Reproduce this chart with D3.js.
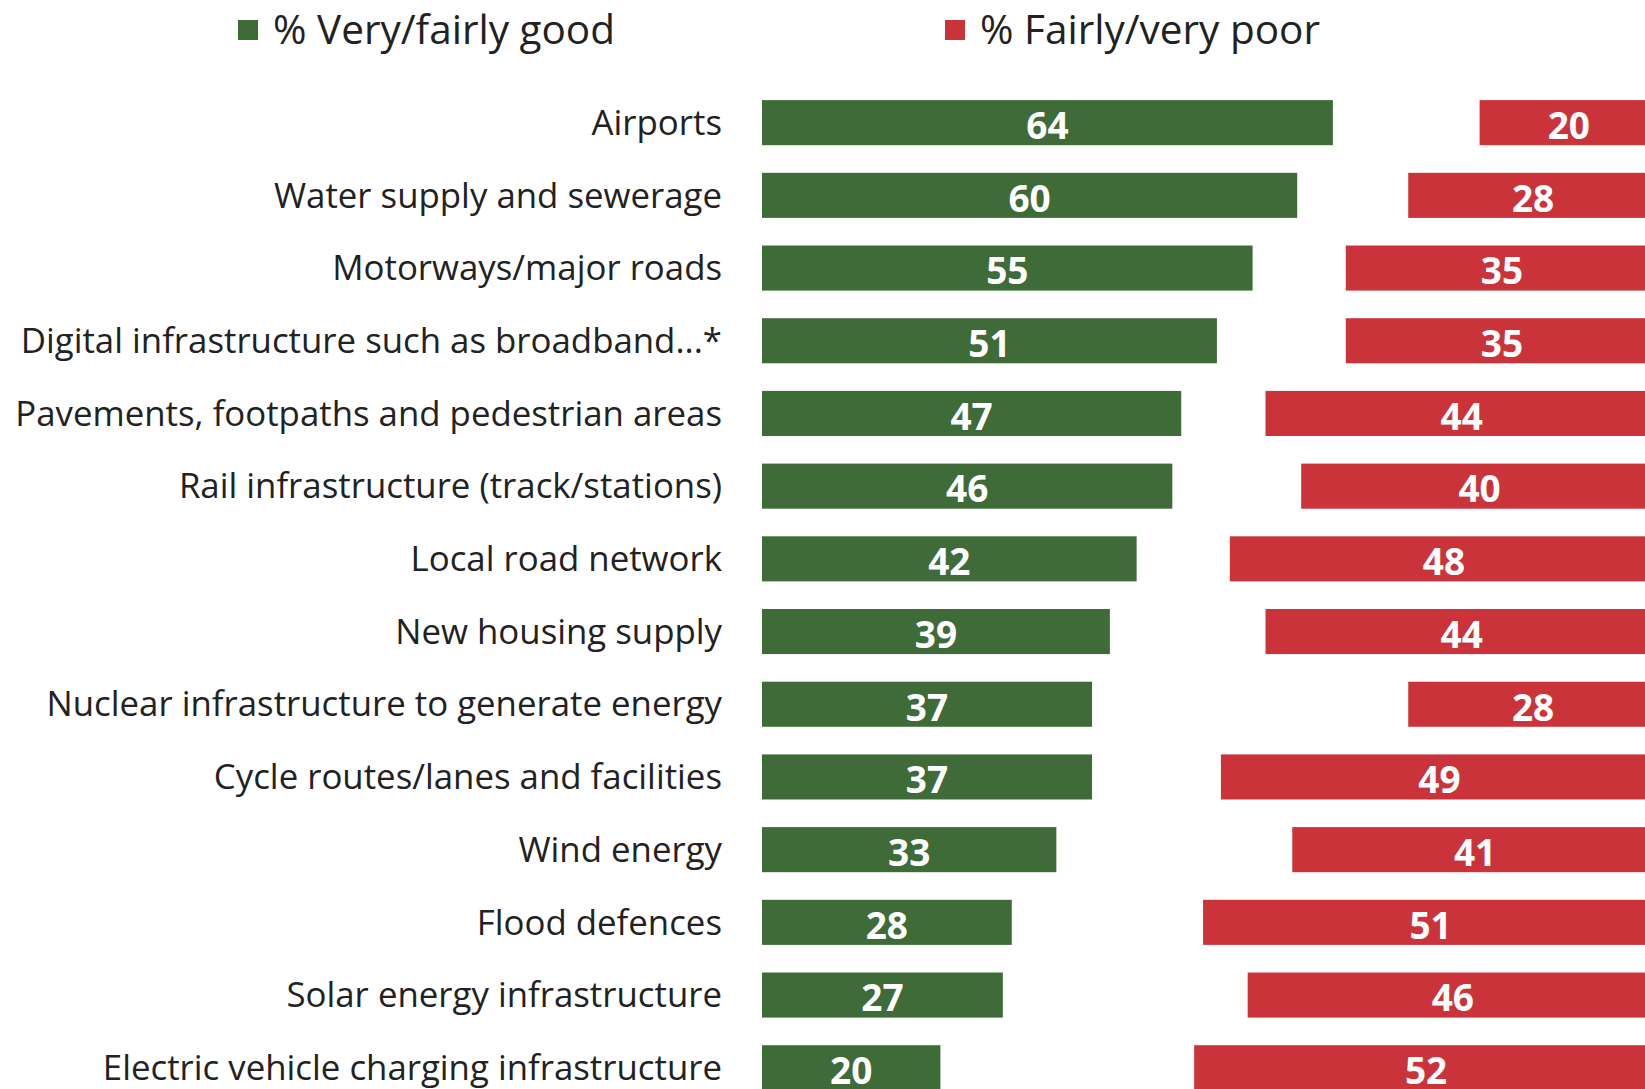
<!DOCTYPE html>
<html>
<head>
<meta charset="utf-8">
<script src="https://cdn.jsdelivr.net/npm/d3@7"></script>
<style>
  html, body { margin: 0; padding: 0; background: #fff; overflow: hidden; }
  svg { display: block; font-family: "Open Sans", "Noto Sans", sans-serif; }
</style>
</head>
<body>
<div id="chart"></div>
<script>
// data
var categories = [
  'Airports',
  'Water supply and sewerage',
  'Motorways/major roads',
  'Digital infrastructure such as broadband...*',
  'Pavements, footpaths and pedestrian areas',
  'Rail infrastructure (track/stations)',
  'Local road network',
  'New housing supply',
  'Nuclear infrastructure to generate energy',
  'Cycle routes/lanes and facilities',
  'Wind energy',
  'Flood defences',
  'Solar energy infrastructure',
  'Electric vehicle charging infrastructure'
]
var goodValues = [64, 60, 55, 51, 47, 46, 42, 39, 37, 37, 33, 28, 27, 20]
var poorValues = [20, 28, 35, 35, 44, 40, 48, 44, 28, 49, 41, 51, 46, 52]
var legendLabels = ['% Very/fairly good', '% Fairly/very poor']

var W = 1645, H = 1089
var green = '#3e6b37', red = '#cb333b'

var svg = d3.select('#chart').append('svg')
  .attr('width', W).attr('height', H)

// scales
var unit = 8.92
var xGood = d3.scaleLinear().domain([0, 64]).range([762, 762 + 64 * unit])
var redRight = 1658
var xPoor = d3.scaleLinear().domain([0, 52]).range([redRight, redRight - 52 * unit])

var step = 72.7
var y = d3.scaleBand()
  .domain(categories)
  .range([86.3, 86.3 + step * categories.length])
  .paddingInner(0.38).paddingOuter(0.19)

var rows = categories.map(function(c, i){
  return {cat: c, good: goodValues[i], poor: poorValues[i]}
})

// category labels
svg.append('g').selectAll('text')
  .data(rows).enter().append('text')
  .attr('x', 722)
  .attr('y', function(d){ return y(d.cat) + y.bandwidth() / 2 })
  .attr('dy', '0.35em')
  .attr('text-anchor', 'end')
  .attr('fill', '#222')
  .style('font-size', '34.8px')
  .text(function(d){ return d.cat })

// green bars
var g1 = svg.append('g')
g1.selectAll('rect')
  .data(rows).enter().append('rect')
  .attr('x', xGood(0))
  .attr('y', function(d){ return y(d.cat) })
  .attr('width', function(d){ return xGood(d.good) - xGood(0) })
  .attr('height', y.bandwidth())
  .attr('fill', green)
g1.selectAll('text')
  .data(rows).enter().append('text')
  .attr('x', function(d){ return (xGood(0) + xGood(d.good)) / 2 })
  .attr('y', function(d){ return y(d.cat) + y.bandwidth() / 2 + 3 })
  .attr('dy', '0.36em')
  .attr('text-anchor', 'middle')
  .attr('fill', '#fff')
  .style('font-size', '37px').style('font-weight', 'bold')
  .text(function(d){ return d.good })

// red bars (run off the right edge)
var g2 = svg.append('g')
g2.selectAll('rect')
  .data(rows).enter().append('rect')
  .attr('x', function(d){ return xPoor(d.poor) })
  .attr('y', function(d){ return y(d.cat) })
  .attr('width', function(d){ return xPoor(0) - xPoor(d.poor) })
  .attr('height', y.bandwidth())
  .attr('fill', red)
g2.selectAll('text')
  .data(rows).enter().append('text')
  .attr('x', function(d){ return (xPoor(0) + xPoor(d.poor)) / 2 })
  .attr('y', function(d){ return y(d.cat) + y.bandwidth() / 2 + 3 })
  .attr('dy', '0.36em')
  .attr('text-anchor', 'middle')
  .attr('fill', '#fff')
  .style('font-size', '37px').style('font-weight', 'bold')
  .text(function(d){ return d.poor })

// legend
var legend = svg.append('g')
var legX = [238, 945]
var legColors = [green, red]
legendLabels.forEach(function(l, i){
  legend.append('rect')
    .attr('x', legX[i]).attr('y', 20)
    .attr('width', 20).attr('height', 20)
    .attr('fill', legColors[i])
  legend.append('text')
    .attr('x', legX[i] + 35).attr('y', 30)
    .attr('dy', '0.35em')
    .attr('fill', '#222')
    .style('font-size', '40.5px')
    .text(l)
})
</script>
</body>
</html>
